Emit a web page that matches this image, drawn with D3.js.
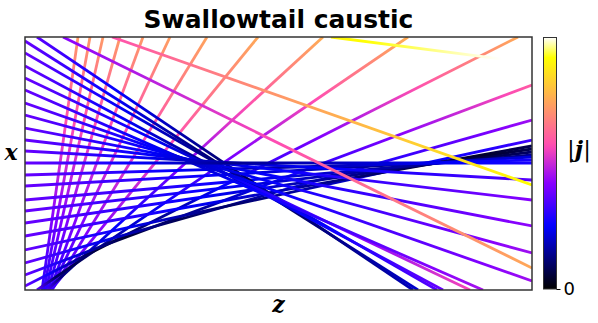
<!DOCTYPE html>
<html>
<head>
<meta charset="utf-8">
<script src="https://cdn.jsdelivr.net/npm/d3@7"></script>
<style>
  body { margin: 0; background: #fff; }
  text { font-family: "DejaVu Sans", sans-serif; }
</style>
</head>
<body>
<svg id="chart" width="598" height="323"></svg>
<script>
// Ray endpoints (z to the right, x up, plot units)
const rayZa = [17, 19, 21, 23, 25, 26, 27, 26, 22, 12,
               0, 0, 0, 0, 0, 0, 0, 0, 0, 0,
               12, 0, 0, 0, 0, 0, 0, 0, 0, 0, 0, 0, 38, 87, 306];
const rayXa = [0, 0, 0, 0, 0, 0, 0, 0, 0, 0,
               4, 15, 27, 40, 54, 67, 79, 90, 104, 115,
               253, 249, 237, 224, 212, 200, 187, 175, 162, 150, 139, 127, 253, 253, 253];
const rayZb = [53, 65, 78, 95, 118, 145, 182, 233, 298, 383,
               493, 507, 507, 507, 507, 507, 507, 507, 507, 507,
               388, 393, 412, 418, 445, 458, 507, 507, 507, 507, 507, 507, 507, 507, 507];
const rayXb = [253, 253, 253, 253, 253, 253, 253, 253, 253, 253,
               253, 205, 170, 150, 144, 141, 138, 135, 133, 130,
               0, 0, 0, 0, 0, 0, 9, 37, 64, 90, 110, 127, 22, 105, 227];
// |j| at the start, at its lowest point (and where), and at the end
const rayJa = [0.30, 0.30, 0.30, 0.30, 0.30, 0.30, 0.32, 0.32, 0.34, 0.36,
               0.38, 0.38, 0.38, 0.38, 0.38, 0.38, 0.38, 0.38, 0.38, 0.38,
               0.36, 0.38, 0.38, 0.38, 0.38, 0.38, 0.38, 0.38, 0.38, 0.38, 0.38, 0.38, 0.42, 0.58, 0.90];
const rayJm = [0.30, 0.30, 0.30, 0.30, 0.30, 0.30, 0.32, 0.32, 0.10, 0.05,
               0.04, 0.05, 0.08, 0.10, 0.03, 0.04, 0.06, 0.10, 0.14, 0.16,
               0.06, 0.06, 0.12, 0.14, 0.20, 0.20, 0.20, 0.20, 0.20, 0.20, 0.18, 0.14, 0.42, 0.58, 0.90];
const rayTm = [0, 0, 0, 0, 0, 0, 0, 0, 0.03, 0.06,
               0.15, 0.2, 0.3, 0.4, 0.85, 0.9, 0.92, 0.92, 0.7, 0.5,
               0.6, 0.55, 0.45, 0.42, 0.38, 0.36, 0.34, 0.34, 0.33, 0.33, 0.34, 0.4, 0, 0, 0];
const rayJb = [0.72, 0.72, 0.72, 0.72, 0.72, 0.73, 0.74, 0.75, 0.76, 0.76,
               0.75, 0.60, 0.45, 0.33, 0.08, 0.08, 0.10, 0.14, 0.22, 0.28,
               0.18, 0.20, 0.36, 0.38, 0.56, 0.46, 0.45, 0.45, 0.43, 0.42, 0.36, 0.28, 0.75, 0.92, 1.02];

const cbTicks = [0];

const plot = { left: 25, right: 532, top: 37, bottom: 290 };

const svg = d3.select('#chart');
const defs = svg.append('defs');

const zScale = d3.scaleLinear().domain([0, 507]).range([plot.left, plot.right]);
const xScale = d3.scaleLinear().domain([0, 253]).range([plot.bottom, plot.top]);

// matplotlib gnuplot2 colour map
function gnuplot2(t) {
  const c = v => Math.max(0, Math.min(1, v));
  t = c(t);
  const r = c(t / 0.32 - 0.78125);
  const g = c(2 * t - 0.84);
  let b;
  if (t < 0.25) b = 4 * t;
  else if (t < 0.42) b = 1;
  else if (t < 0.92) b = -2 * t + 1.84;
  else b = t / 0.08 - 11.5;
  return d3.rgb(r * 255, g * 255, c(b) * 255).toString();
}

defs.append('clipPath').attr('id', 'plotClip')
  .append('rect')
  .attr('x', plot.left).attr('y', plot.top)
  .attr('width', plot.right - plot.left).attr('height', plot.bottom - plot.top);

const rays = rayZa.map((z, i) => ({
  za: z, xa: rayXa[i], zb: rayZb[i], xb: rayXb[i],
  ja: rayJa[i], jm: rayJm[i], tm: rayTm[i], jb: rayJb[i]
}));

function jAt(d, t) {
  if (d.tm <= 0) return d.ja + (d.jb - d.ja) * t;
  if (t <= d.tm) return d.ja + (d.jm - d.ja) * (t / d.tm);
  return d.jm + (d.jb - d.jm) * ((t - d.tm) / (1 - d.tm));
}

rays.forEach((d, i) => {
  const g = defs.append('linearGradient')
    .attr('id', 'ray' + i)
    .attr('gradientUnits', 'userSpaceOnUse')
    .attr('x1', zScale(d.za)).attr('y1', xScale(d.xa))
    .attr('x2', zScale(d.zb)).attr('y2', xScale(d.xb));
  d3.range(0, 1.0001, 0.05).forEach(t => {
    g.append('stop').attr('offset', t).attr('stop-color', gnuplot2(jAt(d, t)));
  });
});

svg.append('g')
  .attr('clip-path', 'url(#plotClip)')
  .selectAll('line')
  .data(rays)
  .join('line')
    .attr('x1', d => zScale(d.za))
    .attr('y1', d => xScale(d.xa))
    .attr('x2', d => zScale(d.zb))
    .attr('y2', d => xScale(d.xb))
    .attr('stroke', (d, i) => `url(#ray${i})`)
    .attr('stroke-width', 2.8);

// frame
svg.append('rect')
  .attr('x', plot.left).attr('y', plot.top)
  .attr('width', plot.right - plot.left).attr('height', plot.bottom - plot.top)
  .attr('fill', 'none').attr('stroke', '#333').attr('stroke-width', 1.5);

// title and axis labels
svg.append('text')
  .attr('x', (plot.left + plot.right) / 2).attr('y', 28)
  .attr('text-anchor', 'middle')
  .style('font-weight', 'bold').style('font-size', '25px')
  .text('Swallowtail caustic');

svg.append('text')
  .attr('x', 11).attr('y', 160)
  .attr('text-anchor', 'middle')
  .style('font-family', '"DejaVu Serif", serif')
  .style('font-style', 'italic').style('font-weight', 'bold').style('font-size', '22px')
  .text('x');

svg.append('text')
  .attr('x', (plot.left + plot.right) / 2).attr('y', 312)
  .attr('text-anchor', 'middle')
  .style('font-family', '"DejaVu Serif", serif')
  .style('font-style', 'italic').style('font-weight', 'bold').style('font-size', '22px')
  .text('z');

// colour bar
const cb = { x: 543.5, w: 13, top: 37.5, bottom: 289 };
const cbGrad = defs.append('linearGradient')
  .attr('id', 'cbGrad')
  .attr('x1', 0).attr('y1', 1).attr('x2', 0).attr('y2', 0);
d3.range(0, 1.0001, 0.02).forEach(t => {
  cbGrad.append('stop').attr('offset', t).attr('stop-color', gnuplot2(t));
});
svg.append('rect')
  .attr('x', cb.x).attr('y', cb.top)
  .attr('width', cb.w).attr('height', cb.bottom - cb.top)
  .attr('fill', 'url(#cbGrad)')
  .attr('stroke', '#333').attr('stroke-width', 1);

const cbScale = d3.scaleLinear().domain([0, 1]).range([cb.bottom, cb.top]);
const cbAxis = d3.axisRight(cbScale).tickValues(cbTicks).tickFormat(d3.format('d'))
  .tickSize(4).tickPadding(3);
const cbAxisG = svg.append('g')
  .attr('transform', `translate(${cb.x + cb.w},0)`)
  .call(cbAxis);
cbAxisG.select('.domain').remove();
cbAxisG.selectAll('text')
  .style('font-family', '"DejaVu Sans", sans-serif')
  .style('font-size', '18px')
  .attr('fill', '#000');

const jLabel = svg.append('text')
  .attr('x', 579).attr('y', 157)
  .attr('text-anchor', 'middle')
  .style('font-family', '"DejaVu Serif", serif')
  .style('font-size', '23px');
jLabel.append('tspan').text('|');
jLabel.append('tspan').style('font-style', 'italic').style('font-weight', 'bold').text('j');
jLabel.append('tspan').text('|');
</script>
</body>
</html>
